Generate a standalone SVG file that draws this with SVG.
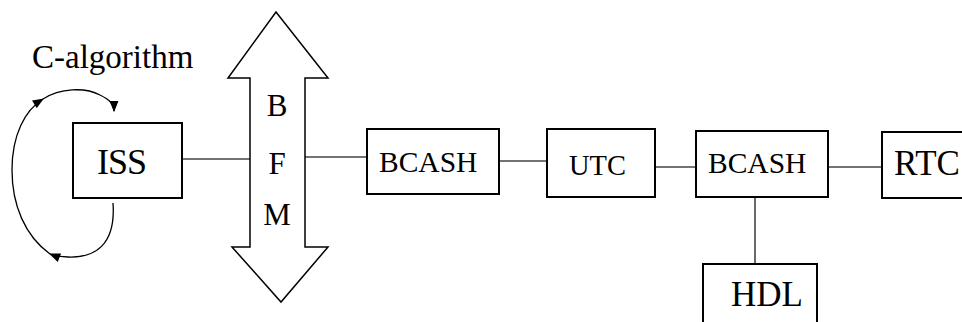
<svg xmlns="http://www.w3.org/2000/svg" width="962" height="322" viewBox="0 0 962 322">
<style>
.box{fill:#fff;stroke:#000;stroke-width:2}
.ln{fill:none;stroke:#444;stroke-width:1.6}
.loop{fill:none;stroke:#000;stroke-width:1.3}
text{font-family:"Liberation Serif","Times New Roman",serif;fill:#000}
</style>
<defs>
<marker id="ah" viewBox="0 0 10 8" refX="9" refY="4" markerWidth="12" markerHeight="9" markerUnits="userSpaceOnUse" orient="auto">
<path d="M0,0 L10,4 L0,8 Z" fill="#000"/>
</marker>
</defs>
<rect width="962" height="322" fill="#fff"/>
<g id="connectors">
<line class="ln" x1="182" y1="159" x2="250" y2="159"/>
<line class="ln" x1="305" y1="157" x2="367" y2="157"/>
<line class="ln" x1="499" y1="161" x2="547" y2="161"/>
<line class="ln" x1="655" y1="167" x2="696" y2="167"/>
<line class="ln" x1="828" y1="167" x2="882" y2="167"/>
<line class="ln" x1="755" y1="197" x2="755" y2="264"/>
<path class="loop" d="M113,203 C116,245 95,258 68,257 C60,257 55,256 50,254" marker-end="url(#ah)"/>
<path class="loop" d="M50,254 C25,236 12,205 12,170 C12,135 25,110 43,99" marker-end="url(#ah)"/>
<path class="loop" d="M43,99 C60,88 85,87 100,95 C110,100 114,104 114,111" marker-end="url(#ah)"/>
</g>
<g id="calg"><text x="32" y="68" font-size="33">C-algorithm</text></g>
<g id="iss">
<rect class="box" x="73" y="123" width="109" height="75"/>
<text x="97" y="174" font-size="36" letter-spacing="-1">ISS</text>
</g>
<g id="bfm">
<polygon points="276,12 328,78 305,78 305,247 328,247 281,302 232,247 250,247 250,78 228,78" fill="#fff" stroke="#000" stroke-width="1.5"/>
<text x="277" y="116" font-size="31" text-anchor="middle">B</text>
<text x="277" y="174" font-size="31" text-anchor="middle">F</text>
<text x="277" y="225" font-size="31" text-anchor="middle">M</text>
</g>
<g id="bcash1">
<rect class="box" x="367" y="129" width="132" height="65"/>
<text x="379" y="172" font-size="29.5">BCASH</text>
</g>
<g id="utc">
<rect class="box" x="547" y="129" width="108" height="68"/>
<text x="569" y="175" font-size="28.5">UTC</text>
</g>
<g id="bcash2">
<rect class="box" x="696" y="131" width="132" height="66"/>
<text x="708" y="173" font-size="29.5">BCASH</text>
</g>
<g id="rtc">
<rect class="box" x="882" y="132" width="100" height="66"/>
<text x="894" y="175" font-size="35">RTC</text>
</g>
<g id="hdl">
<rect class="box" x="703" y="264" width="114" height="80"/>
<text x="731" y="306" font-size="35">HDL</text>
</g>
</svg>
